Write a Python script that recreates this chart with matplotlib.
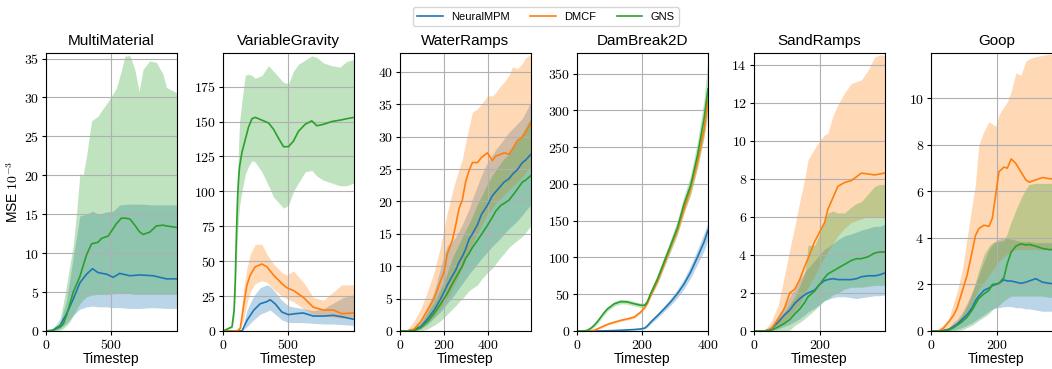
import numpy as np
import matplotlib
matplotlib.use('Agg')
import matplotlib.pyplot as plt
from matplotlib.ticker import FuncFormatter

plt.rcParams['font.family'] = ['Liberation Sans', 'DejaVu Sans']
plt.rcParams['mathtext.fontset'] = 'cm'

models = ['NeuralMPM', 'DMCF', 'GNS']
colors = ['#1f77b4', '#ff7f0e', '#2ca02c']

# ---- MultiMaterial (no DMCF)
mm_t_blue = [0, 50, 107, 157, 208, 259, 310, 355, 398, 462, 513, 563, 640, 716, 817, 919, 1000]
mm_blue = [0, 0.1, 0.7, 2.2, 4.1, 6.2, 7.3, 8.0, 7.5, 7.3, 6.9, 7.4, 7.1, 7.2, 7.1, 6.7, 6.7]
mm_blue_lo = [0, 0, 0.3, 1.0, 2.0, 2.8, 3.1, 3.2, 3.1, 3.1, 3.0, 3.0, 2.9, 2.9, 3.0, 2.9, 2.9]
mm_blue_hi = [0, 0.2, 1.0, 4.0, 9.5, 14.8, 15.0, 15.4, 15.0, 15.3, 15.4, 16.2, 16.3, 16.3, 16.2, 16.2, 16.2]
mm_t_green = [0, 50, 107, 132, 157, 183, 208, 234, 259, 284, 310, 348, 398, 424, 475, 538, 576, 602,
              640, 678, 711, 741, 792, 843, 893, 919, 1000]
mm_green = [0, 0.05, 0.5, 0.9, 2.0, 3.5, 5.0, 6.0, 7.0, 8.4, 9.8, 11.2, 11.4, 11.9, 12.2, 13.8, 14.5, 14.5,
            14.4, 13.6, 12.8, 12.4, 12.7, 13.5, 13.6, 13.5, 13.3]
mm_green_lo = [0, 0, 0.1, 0.3, 0.7, 1.2, 2.0, 2.8, 3.5, 4.0, 4.4, 4.6, 4.7, 4.7, 4.7, 4.8, 4.8, 4.8,
               4.8, 4.7, 4.7, 4.7, 4.7, 4.7, 4.7, 4.7, 4.7]
mm_green_hi = [0, 0.2, 1.6, 3.5, 5.9, 8.5, 11.0, 15.3, 20.2, 20.0, 22.5, 27.0, 27.6, 28.3, 29.5, 31.2, 33.5, 35.3,
               35.4, 33.6, 30.8, 33.6, 34.7, 34.5, 33.0, 31.3, 30.6]

# ---- VariableGravity
vg_t_blue = [0, 145, 183, 234, 284, 335, 360, 398, 449, 500, 551, 614, 690, 767, 843, 919, 1000]
vg_blue = [0, 0, 7.6, 14.8, 19.5, 21, 22.4, 19.5, 13.6, 11.7, 12.4, 12.9, 10.7, 10.7, 11.2, 10, 8.3]
vg_blue_lo = [0, 0, 3, 8, 12, 14, 15, 12, 8, 6, 6, 6, 5.5, 5, 5, 4.5, 4]
vg_blue_hi = [0, 0.5, 15, 25, 31, 33, 32, 28, 22, 18, 17, 16, 14.5, 16, 20, 24, 26]
vg_t_orange = [0, 107, 132, 157, 183, 208, 246, 297, 335, 386, 449, 487, 538, 614, 690, 767, 843, 906, 1000]
vg_orange = [0, 0, 2, 18, 33, 40, 46, 48, 46, 40, 34, 31, 29, 24, 17, 15, 15, 12.4, 12.9]
vg_orange_lo = [0, 0, 0.5, 8, 20, 28, 34, 36, 35, 30, 25, 23, 21, 16, 12, 11, 10, 9, 9.5]
vg_orange_hi = [0, 0, 4, 30, 45, 55, 62, 62, 55, 48, 42, 40, 43, 35, 24, 22, 28, 33, 33]
vg_t_green = [0, 69, 85, 94, 103, 112, 120, 127, 145, 170, 195, 221, 246, 297, 348, 386, 424, 462, 500,
              538, 576, 627, 678, 716, 767, 830, 893, 944, 1000]
vg_green = [0, 3, 15, 37, 70, 97, 110, 118, 128, 137, 146, 152, 153, 151, 149, 144.5, 138, 132, 132,
            136, 143, 148, 150.5, 147, 148, 150, 151, 152, 153]
vg_green_lo = [0, 2, 10, 25, 50, 70, 82, 90, 100, 112, 118, 122, 121, 114, 104, 96, 92, 88, 90,
               100, 106, 114, 115, 111, 108, 106, 104, 104, 106]
vg_green_hi = [0, 4, 20, 45, 80, 110, 135, 150, 165, 183, 184, 183, 181, 183, 190, 186, 182, 178, 177,
               186, 191, 194, 197, 196, 192, 190, 189, 193, 194.5]

# ---- WaterRamps
wr_t = [0, 33, 64, 94, 124, 155, 185, 200, 215, 238, 253, 268, 283, 298, 314, 329, 352, 370, 397, 420,
        435, 458, 473, 495, 511, 533, 556, 571, 595]
wr_blue = [0, 0, 0.2, 0.7, 1.8, 3.2, 5.0, 6.0, 7.1, 8.5, 9.4, 10.6, 11.5, 12.6, 14.2, 15.0, 16.4, 18.0, 19.4, 20.9,
           21.5, 22.4, 23.0, 23.5, 24.2, 24.9, 26.0, 26.4, 27.3]
wr_blue_lo = [0, 0, 0, 0.3, 1.0, 2.0, 3.0, 3.6, 4.3, 5.2, 5.9, 6.6, 7.3, 8.0, 8.8, 9.4, 10.4, 11.2, 12.2, 13.1,
              13.6, 14.4, 15.0, 15.8, 16.3, 17.0, 17.9, 18.6, 19.5]
wr_blue_hi = [0, 0, 0.4, 1.4, 3.6, 6.1, 9.8, 11.8, 13.2, 13.8, 14.5, 15.4, 16.4, 17.6, 18.8, 20.4, 22.4, 24.0, 26.0, 27.2,
              28.0, 29.0, 29.7, 30.7, 31.2, 32.0, 32.8, 33.8, 35.4]
wr_orange = [0, 0, 0.3, 1.4, 3.2, 5.0, 7.8, 9.1, 11.9, 14.0, 16.3, 18.9, 20.2, 23.0, 24.8, 26.0, 26.0, 26.8, 27.5, 26.3,
             27.0, 27.3, 27.5, 27.3, 28.1, 29.4, 29.9, 30.7, 32.1]
wr_orange_lo = [0, 0, 0, 0.4, 1.2, 2.2, 3.5, 4.2, 5.0, 6.5, 7.5, 8.6, 9.8, 11, 12.3, 13.5, 15, 16.3, 18, 19,
                19.7, 20.5, 21, 21.8, 22.3, 23, 23.8, 24.5, 25.5]
wr_orange_hi = [0, 0.2, 1.5, 3.4, 6, 9.1, 13.2, 15.8, 18.3, 21.5, 23.3, 25, 26.5, 29, 31.5, 33.8, 34.3, 35, 36.3, 36.3,
                36.8, 37.9, 38.4, 39.5, 40.8, 40.5, 41.3, 42.2, 42.7]
wr_green = [0, 0, 0.05, 0.5, 1.4, 2.7, 4.2, 5.0, 5.8, 7.3, 8.2, 9.1, 10.0, 11.2, 12.0, 12.9, 14.0, 14.9, 16.3, 17.6,
            18.5, 19.4, 19.7, 20.2, 20.9, 21.9, 23.0, 23.3, 24.0]
wr_green_lo = [0, 0, 0, 0, 0.3, 0.9, 1.6, 2.1, 2.6, 3.4, 3.9, 4.5, 5.0, 5.6, 6.2, 6.6, 7.1, 8.0, 9.0, 9.7,
               10.4, 11.4, 12.0, 12.9, 13.4, 14.0, 14.6, 15.2, 16.3]
wr_green_hi = [0, 0, 0.2, 1.0, 2.8, 4.5, 6.5, 7.6, 9.0, 11.3, 12.4, 13.4, 14.5, 15.6, 16.6, 17.7, 19.6, 20.8, 22.7, 24.1,
               24.8, 26.0, 26.6, 27.3, 28.2, 29.4, 30.5, 31.5, 33.0]

# ---- DamBreak2D
db_t = [0, 20, 32, 43, 53, 63, 73, 83, 93, 114, 134, 154, 175, 195, 207, 215, 225, 246, 266, 286,
        307, 327, 347, 368, 388, 400]
db_blue = [0, 0, 0, 0, 0, 0, 0.1, 0.2, 0.3, 0.6, 1, 1.5, 2, 2.8, 4, 7, 12, 21, 30, 39.5,
           51, 64, 80, 100.6, 121, 137]
db_blue_lo = [0, 0, 0, 0, 0, 0, 0, 0, 0.1, 0.3, 0.6, 1, 1.3, 1.8, 2.8, 5, 9.5, 18, 26.5, 35,
              45.5, 57.5, 72, 91, 109, 124]
db_blue_hi = [0, 0, 0, 0, 0, 0, 0.2, 0.4, 0.6, 1, 1.5, 2.2, 3, 4, 5.5, 9, 14.5, 24, 34, 44.5,
              57, 71, 89, 111, 133, 148]
db_orange = [0, 0, 0, 0, 1, 3, 5, 7, 9, 12, 14.5, 16.5, 19, 26, 32, 38, 48.5, 68, 91, 114,
             138, 166, 194, 230, 274, 314]
db_orange_lo = [0, 0, 0, 0, 0.3, 2, 3.5, 5.5, 7.5, 10.5, 13, 15, 17, 24, 30, 36, 46, 65, 87, 110,
                133, 160, 187, 222, 263, 298]
db_orange_hi = [0, 0, 0, 0.5, 2, 4, 6.5, 8.5, 10.5, 13.5, 16, 18, 21, 28, 34, 40, 51, 71, 95, 118,
                143, 172, 201, 238, 285, 330]
db_green = [0, 0, 1, 4, 8, 13, 19, 25, 30, 37, 40, 39.5, 37, 35, 35, 40, 51, 71, 94, 116.5,
            141, 173, 198, 239, 289, 329.5]
db_green_lo = [0, 0, 0, 2, 5.5, 10, 16, 22, 27, 34, 37, 36.5, 34, 32, 32, 37, 47, 65, 87, 108,
               131, 162, 185, 222, 265, 300]
db_green_hi = [0, 0.5, 2.5, 6, 11, 16, 22, 28, 33, 40, 43, 42.5, 40, 38, 38, 43, 55, 77, 101, 125,
               151, 184, 212, 258, 315, 370]

# ---- SandRamps
sr_t = [0, 32, 52, 72, 92, 108, 123, 138, 153, 163, 183, 198, 213, 223, 238, 253, 273, 293, 309, 324,
        344, 364, 379, 395]
sr_blue = [0, 0, 0.1, 0.45, 0.85, 1.1, 1.45, 1.7, 1.9, 2.0, 2.15, 2.45, 2.65, 2.7, 2.75, 2.7, 2.7, 2.7, 2.75, 2.85,
           2.9, 2.9, 2.95, 3.05]
sr_blue_lo = [0, 0, 0, 0.1, 0.25, 0.35, 0.5, 0.65, 0.85, 1.0, 1.2, 1.4, 1.6, 1.65, 1.75, 1.8, 1.8, 1.75, 1.7, 1.75,
              1.8, 1.85, 1.85, 1.9]
sr_blue_hi = [0, 0, 0.3, 0.8, 1.3, 1.8, 2.2, 2.7, 3.1, 3.3, 3.7, 4.0, 4.3, 4.4, 4.6, 4.8, 5.0, 5.1, 5.2, 5.3,
              5.4, 5.5, 5.5, 5.6]
sr_orange = [0, 0, 0.1, 0.6, 1.2, 2.0, 2.2, 2.7, 3.4, 3.8, 4.7, 5.2, 5.7, 6.4, 7.0, 7.6, 7.8, 7.9, 8.1, 8.3,
             8.25, 8.2, 8.25, 8.3]
sr_orange_lo = [0, 0, 0, 0.2, 0.5, 0.8, 1.1, 1.4, 2.0, 2.3, 2.9, 3.4, 3.9, 4.2, 4.6, 5.0, 5.4, 5.7, 5.8, 5.9,
                6.0, 6.0, 6.0, 6.0]
sr_orange_hi = [0, 0.05, 0.5, 1.3, 2.9, 4.3, 5.5, 6.8, 8.0, 9.0, 9.6, 10.0, 10.3, 10.4, 11.3, 11.9, 12.5, 13.0, 13.1, 13.2,
                13.7, 14.4, 14.5, 14.5]
sr_green = [0, 0, 0.05, 0.2, 0.4, 0.6, 0.9, 1.15, 1.5, 1.8, 2.1, 2.45, 2.8, 3.0, 3.15, 3.3, 3.5, 3.7, 3.8, 3.8,
            3.9, 4.1, 4.15, 4.15]
sr_green_lo = [0, 0, 0, 0, 0, 0.05, 0.3, 0.45, 0.65, 0.8, 1.1, 1.35, 1.6, 1.7, 1.9, 2.0, 2.2, 2.3, 2.3, 2.3,
               2.35, 2.4, 2.4, 2.4]
sr_green_hi = [0, 0, 0.15, 0.5, 1.0, 1.4, 1.8, 2.4, 3.0, 4.5, 4.5, 5.1, 5.8, 6.2, 6.3, 6.2, 6.2, 6.5, 6.7, 6.8,
               7.2, 7.6, 7.7, 7.7]

# ---- Goop
gp_t = [0, 23, 38, 54, 69, 79, 94, 109, 124, 134, 144, 160, 175, 185, 195, 205, 220, 230, 242, 256,
        271, 286, 296, 316, 336, 357, 395]
gp_blue = [0, 0, 0.03, 0.07, 0.2, 0.3, 0.5, 0.7, 1.0, 1.3, 1.5, 1.75, 1.85, 1.95, 2.0, 2.05, 2.2, 2.15, 2.15, 2.1,
           2.05, 2.1, 2.15, 2.25, 2.1, 2.05, 2.0]
gp_blue_lo = [0, 0, 0, 0, 0.03, 0.08, 0.15, 0.25, 0.35, 0.45, 0.55, 0.7, 0.85, 0.95, 1.0, 1.0, 1.05, 1.05, 1.05, 1.0,
              1.0, 0.95, 0.95, 0.9, 0.85, 0.85, 0.85]
gp_blue_hi = [0, 0, 0.05, 0.15, 0.4, 0.5, 0.8, 1.2, 1.7, 2.0, 2.4, 3.0, 3.5, 3.7, 3.85, 3.95, 4.0, 4.0, 3.95, 3.9,
              3.85, 3.85, 3.85, 3.8, 3.8, 3.8, 3.8]
gp_orange = [0, 0, 0.13, 0.4, 0.7, 1.0, 1.7, 2.4, 3.4, 4.1, 4.4, 4.55, 4.5, 4.85, 5.85, 6.85, 7.05, 7.0, 7.4, 7.2,
             6.85, 6.5, 6.4, 6.5, 6.6, 6.55, 6.5]
gp_orange_lo = [0, 0, 0, 0.05, 0.15, 0.3, 0.5, 0.8, 1.2, 1.5, 1.8, 2.1, 2.4, 2.6, 2.8, 3.0, 3.2, 3.3, 3.4, 3.5,
                3.5, 3.5, 3.5, 3.5, 3.5, 3.5, 3.5]
gp_orange_hi = [0, 0.05, 0.3, 0.55, 1.25, 1.7, 2.6, 4.0, 5.4, 6.3, 8.0, 8.6, 9.0, 8.9, 8.8, 9.3, 9.65, 9.85, 10.3, 11.1,
                11.0, 11.6, 11.7, 11.8, 11.85, 11.9, 11.9]
gp_green = [0, 0, 0, 0.05, 0.15, 0.25, 0.4, 0.6, 0.9, 1.15, 1.4, 1.6, 1.75, 2.0, 2.02, 2.05, 2.3, 2.9, 3.4, 3.65,
            3.75, 3.7, 3.72, 3.65, 3.55, 3.5, 3.5]
gp_green_lo = [0, 0, 0, 0, 0, 0, 0.05, 0.15, 0.25, 0.35, 0.45, 0.6, 0.75, 0.9, 1.0, 1.1, 1.3, 1.4, 1.5, 1.5,
               1.5, 1.5, 1.5, 1.5, 1.5, 1.45, 1.45]
gp_green_hi = [0, 0, 0, 0.15, 0.3, 0.4, 0.7, 1.1, 1.6, 2.1, 2.6, 3.3, 3.65, 3.8, 3.85, 3.85, 3.9, 4.2, 4.7, 5.2,
               5.7, 6.1, 6.3, 6.35, 6.35, 6.35, 6.35]

titles = ['MultiMaterial', 'VariableGravity', 'WaterRamps', 'DamBreak2D', 'SandRamps', 'Goop']
xmax = [1000, 1000, 595, 400, 395, 395]
ymax = [35.7, 199, 42.9, 378, 14.6, 11.95]
xticks = [[0, 500], [0, 500], [0, 200, 400], [0, 200, 400], [0, 200], [0, 200]]

# per panel: list of (model index, t, mean, lo, hi)
panels = [
    [(0, mm_t_blue, mm_blue, mm_blue_lo, mm_blue_hi),
     (2, mm_t_green, mm_green, mm_green_lo, mm_green_hi)],
    [(0, vg_t_blue, vg_blue, vg_blue_lo, vg_blue_hi),
     (1, vg_t_orange, vg_orange, vg_orange_lo, vg_orange_hi),
     (2, vg_t_green, vg_green, vg_green_lo, vg_green_hi)],
    [(0, wr_t, wr_blue, wr_blue_lo, wr_blue_hi),
     (1, wr_t, wr_orange, wr_orange_lo, wr_orange_hi),
     (2, wr_t, wr_green, wr_green_lo, wr_green_hi)],
    [(0, db_t, db_blue, db_blue_lo, db_blue_hi),
     (1, db_t, db_orange, db_orange_lo, db_orange_hi),
     (2, db_t, db_green, db_green_lo, db_green_hi)],
    [(0, sr_t, sr_blue, sr_blue_lo, sr_blue_hi),
     (1, sr_t, sr_orange, sr_orange_lo, sr_orange_hi),
     (2, sr_t, sr_green, sr_green_lo, sr_green_hi)],
    [(0, gp_t, gp_blue, gp_blue_lo, gp_blue_hi),
     (1, gp_t, gp_orange, gp_orange_lo, gp_orange_hi),
     (2, gp_t, gp_green, gp_green_lo, gp_green_hi)],
]

fig = plt.figure(figsize=(10.52, 3.69), dpi=100)
axes = fig.subplots(1, 6)
fig.subplots_adjust(left=0.0437, right=1.0095, bottom=0.103, top=0.856, wspace=0.351)

fmt = FuncFormatter(lambda v, p: f'${v:g}$')
handles = {}
for i, ax in enumerate(axes):
    for m, t, y, lo, hi in panels[i]:
        ax.fill_between(t, lo, hi, color=colors[m], alpha=0.3, linewidth=0)
    for m, t, y, lo, hi in panels[i]:
        ln, = ax.plot(t, y, color=colors[m], lw=1.2)
        handles[m] = ln
    ax.set_xlim(0, xmax[i])
    ax.set_ylim(0, ymax[i])
    ax.set_xticks(xticks[i])
    ax.xaxis.set_major_formatter(fmt)
    ax.yaxis.set_major_formatter(fmt)
    ax.tick_params(labelsize=10, length=3, pad=2)
    ax.grid(True, color='#b0b0b0', lw=0.8)
    ax.set_title(titles[i], fontsize=11)
    ax.set_xlabel('Timestep', fontsize=10, labelpad=0)

axes[0].set_ylabel('MSE $10^{-3}$', fontsize=10, labelpad=2)

fig.legend([handles[k] for k in range(3)], models, loc='upper center',
           bbox_to_anchor=(0.519, 0.995), ncol=3, fontsize=8, handlelength=2.3,
           columnspacing=1.8)

fig.savefig('out.png', dpi=100)
